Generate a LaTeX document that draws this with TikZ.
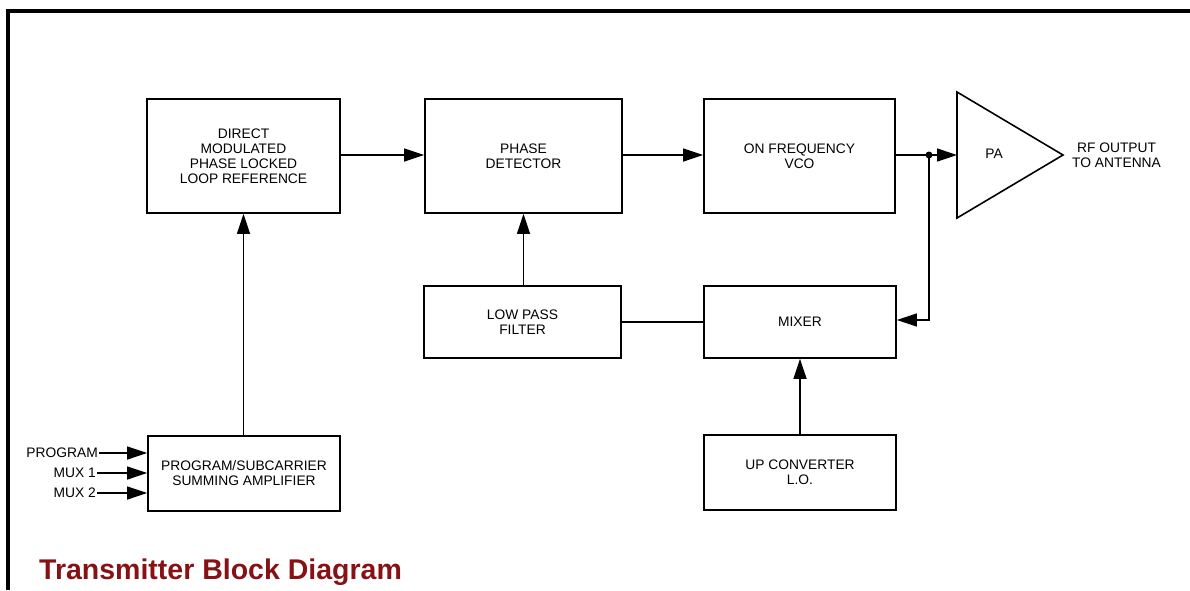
\documentclass[tikz,border=0pt]{standalone}
\usepackage{fontspec}
\setmainfont{Liberation Sans}
\usetikzlibrary{arrows.meta}
\definecolor{titlered}{RGB}{135,18,22}
\begin{document}
\begin{tikzpicture}[x=1pt,y=-1pt,
  blk/.style={draw,line width=1.6pt,align=center,font=\fontsize{13.8}{15}\selectfont,inner sep=0pt},
  lbl/.style={font=\fontsize{13.8}{15}\selectfont,align=center,inner sep=1pt},
  wire/.style={line width=1.3pt},
  arr/.style={wire,-{Triangle[length=20pt,width=13pt]}}]
\useasboundingbox (0,0) rectangle (1190,590);
% frame
\draw[line width=3.5pt] (8,590) -- (8,11) -- (1190,11);
% blocks
\node[blk,minimum width=193pt,minimum height=114pt] (direct) at (243.5,156) {DIRECT\\MODULATED\\PHASE LOCKED\\LOOP REFERENCE};
\node[blk,minimum width=197pt,minimum height=114pt] (phase) at (523.5,156) {PHASE\\DETECTOR};
\node[blk,minimum width=191pt,minimum height=114pt] (vco) at (799.5,156) {ON FREQUENCY\\VCO};
\node[blk,minimum width=197pt,minimum height=72pt] (lpf) at (522.5,322) {LOW PASS\\FILTER};
\node[blk,minimum width=192pt,minimum height=72pt] (mixer) at (800,322) {MIXER};
\node[blk,minimum width=192pt,minimum height=75pt] (upc) at (800,472.5) {UP CONVERTER\\L.O.};
\node[blk,minimum width=192pt,minimum height=75pt] (summ) at (244,473.5) {PROGRAM/SUBCARRIER\\SUMMING AMPLIFIER};
% PA triangle
\draw[line width=1.6pt] (957,92) -- (1063,155) -- (957,218) -- cycle;
\coordinate (pain) at (957,155);
\node[lbl] (pa) at (994,154) {PA};
\node[lbl,anchor=west] (rf) at (1071,155) {RF OUTPUT\\TO ANTENNA};
% junction
\coordinate (junc) at (929,155);
\coordinate (fbk) at (929,320);
% connectors
\draw[arr] (direct.east |- 0,155) -- (phase.west |- 0,155);
\draw[arr] (phase.east |- 0,155) -- (vco.west |- 0,155);
\draw[arr] (vco.east |- junc) -- (pain);
\fill (junc) circle (3.5pt);
\draw[arr] (junc) -- (fbk) -- (mixer.east |- fbk);
\draw[arr] (phase.south |- lpf.north) -- (phase.south);
\draw[wire] (lpf.east) -- (mixer.west);
\draw[arr] (upc.north) -- (mixer.south);
\draw[arr] (direct.south |- summ.north) -- (direct.south);
% inputs
\node[lbl,anchor=east] (inprog) at (99,453) {PROGRAM};
\node[lbl,anchor=east] (inm1) at (97,473) {MUX 1};
\node[lbl,anchor=east] (inm2) at (97,493) {MUX 2};
\draw[arr] (inprog.east) -- (inprog.east -| summ.west);
\draw[arr] (inm1.east) -- (inm1.east -| summ.west);
\draw[arr] (inm2.east) -- (inm2.east -| summ.west);
% title
\node[anchor=base west,inner sep=0pt,text=titlered,font=\fontsize{28.5}{30}\selectfont\bfseries] (title) at (39,579) {Transmitter Block Diagram};
\end{tikzpicture}
\end{document}
